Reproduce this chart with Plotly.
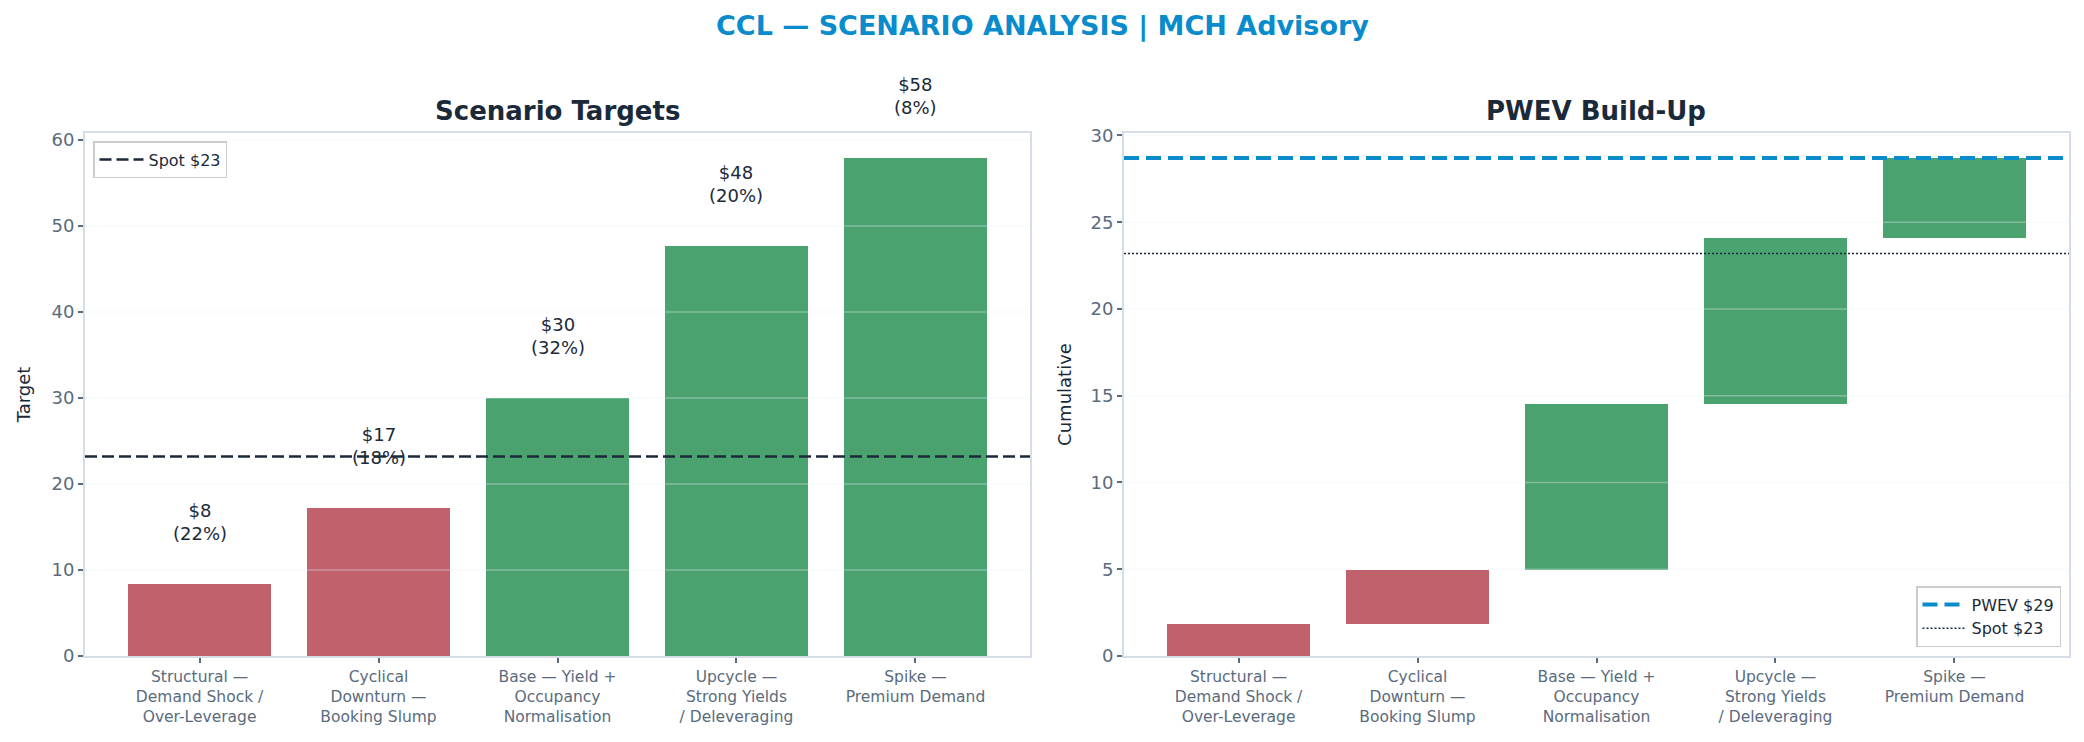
import plotly.graph_objects as go

# Scenario data
scenarios = [
    "Structural —<br>Demand Shock /<br>Over-Leverage",
    "Cyclical<br>Downturn —<br>Booking Slump",
    "Base — Yield +<br>Occupancy<br>Normalisation",
    "Upcycle —<br>Strong Yields<br>/ Deleveraging",
    "Spike —<br>Premium Demand",
]
targets = [8.37, 17.2, 30.0, 47.67, 57.9]
probs = [22, 18, 32, 20, 8]
spot = 23.2

left_ticks = [0, 10, 20, 30, 40, 50, 60]
right_ticks = [0, 5, 10, 15, 20, 25, 30]

RED = "#C0616B"
GREEN = "#4AA26F"
BLUE = "#0A8BCB"
NAVY = "#1B2A3A"
GREY = "#5A6B7D"
SPINE = "#D5DDE7"
FONT = "DejaVu Sans"

colors = [RED if t < spot else GREEN for t in targets]
xs = list(range(len(targets)))

# PWEV build-up (probability weighted contributions)
contrib = [t * p / 100 for t, p in zip(targets, probs)]
bases = []
running = 0
for c in contrib:
    bases.append(running)
    running += c
pwev = running

fig = go.Figure()

fig.add_trace(go.Bar(
    x=xs, y=targets, marker=dict(color=colors, line=dict(width=0)),
    width=0.8, showlegend=False, xaxis="x", yaxis="y",
))
fig.add_trace(go.Bar(
    x=xs, y=contrib, base=bases, marker=dict(color=colors, line=dict(width=0)),
    width=0.8, showlegend=False, xaxis="x2", yaxis="y2",
))

# light grid lines drawn over the bars (like the matplotlib original)
for v in left_ticks[1:]:
    fig.add_shape(type="line", xref="x domain", yref="y", x0=0, x1=1, y0=v, y1=v,
                  line=dict(color="rgba(235,240,245,0.35)", width=1.5), layer="above")
for v in right_ticks[1:]:
    fig.add_shape(type="line", xref="x2 domain", yref="y2", x0=0, x1=1, y0=v, y1=v,
                  line=dict(color="rgba(235,240,245,0.35)", width=1.5), layer="above")

# reference lines
fig.add_shape(type="line", xref="x domain", yref="y", x0=0, x1=1, y0=spot, y1=spot,
              line=dict(color=NAVY, width=2.5, dash="12px,5px"), layer="above",
              showlegend=True, name=f"Spot ${spot:.0f}", legend="legend")
fig.add_shape(type="line", xref="x2 domain", yref="y2", x0=0, x1=1, y0=pwev, y1=pwev,
              line=dict(color=BLUE, width=4, dash="15px,7px"), layer="above",
              showlegend=True, name=f"PWEV ${pwev:.0f}", legend="legend2")
fig.add_shape(type="line", xref="x2 domain", yref="y2", x0=0, x1=1, y0=spot, y1=spot,
              line=dict(color=NAVY, width=1.5, dash="2px,2px"), layer="above",
              showlegend=True, name=f"Spot ${spot:.0f}", legend="legend2")

# value labels
for x, t, p in zip(xs, targets, probs):
    fig.add_annotation(x=x, y=t, xref="x", yref="y", text=f"${t:.0f}<br>({p}%)",
                       showarrow=False, xanchor="center", yanchor="bottom", yshift=38,
                       font=dict(family=FONT, size=18, color=NAVY))

# titles
fig.add_annotation(x=0.5, y=1 - 26 / 742, xref="paper", yref="paper", showarrow=False,
                   xanchor="center", yanchor="middle",
                   text="<b>CCL — SCENARIO ANALYSIS | MCH Advisory</b>",
                   font=dict(family=FONT, size=27, color=BLUE))
fig.add_annotation(x=557 / 2084, y=1 - 111 / 742, xref="paper", yref="paper", showarrow=False,
                   xanchor="center", yanchor="middle",
                   text="<b>Scenario Targets</b>", font=dict(family=FONT, size=26, color=NAVY))
fig.add_annotation(x=1596 / 2084, y=1 - 111 / 742, xref="paper", yref="paper", showarrow=False,
                   xanchor="center", yanchor="middle",
                   text="<b>PWEV Build-Up</b>", font=dict(family=FONT, size=26, color=NAVY))

axis_common = dict(showline=True, linecolor=SPINE, linewidth=2, mirror=True,
                   ticks="outside", ticklen=5, tickwidth=1.5, tickcolor=GREY,
                   showgrid=False, zeroline=False, automargin=False)
xcommon = dict(axis_common, tickvals=xs, ticktext=scenarios, range=[-0.64, 4.64],
               tickfont=dict(family=FONT, size=15.5, color=GREY))
ycommon = dict(axis_common, tickfont=dict(family=FONT, size=18, color=GREY),
               title_font=dict(family=FONT, size=18, color=NAVY))
legend_common = dict(bgcolor="white", bordercolor="#CCCCCC", borderwidth=1.5, itemwidth=44,
                     font=dict(family=FONT, size=16, color=NAVY))

fig.update_layout(
    width=2084, height=742,
    margin=dict(l=0, r=0, t=0, b=0, autoexpand=False),
    paper_bgcolor="white", plot_bgcolor="white",
    font=dict(family=FONT, color=NAVY),
    bargap=0,
    xaxis=dict(xcommon, domain=[85 / 2084, 1030 / 2084], anchor="y"),
    yaxis=dict(ycommon, domain=[1 - 656 / 742, 1 - 133 / 742], range=[0, 60.8],
               tickvals=left_ticks, title=dict(text="Target", standoff=16), anchor="x"),
    xaxis2=dict(xcommon, domain=[1124 / 2084, 2069 / 2084], anchor="y2"),
    yaxis2=dict(ycommon, domain=[1 - 656 / 742, 1 - 133 / 742], range=[0, 30.14],
                tickvals=right_ticks, title=dict(text="Cumulative", standoff=14), anchor="x2"),
    legend=dict(legend_common, x=93 / 2084, y=1 - 141 / 742, xanchor="left", yanchor="top"),
    legend2=dict(legend_common, x=2061 / 2084, y=1 - 647 / 742, xanchor="right", yanchor="bottom"),
)

# drop the default page margin so the figure sits at the top-left corner
fig.write_html("out.html", config={"displayModeBar": False},
               post_script="document.body.style.margin='0px';")
